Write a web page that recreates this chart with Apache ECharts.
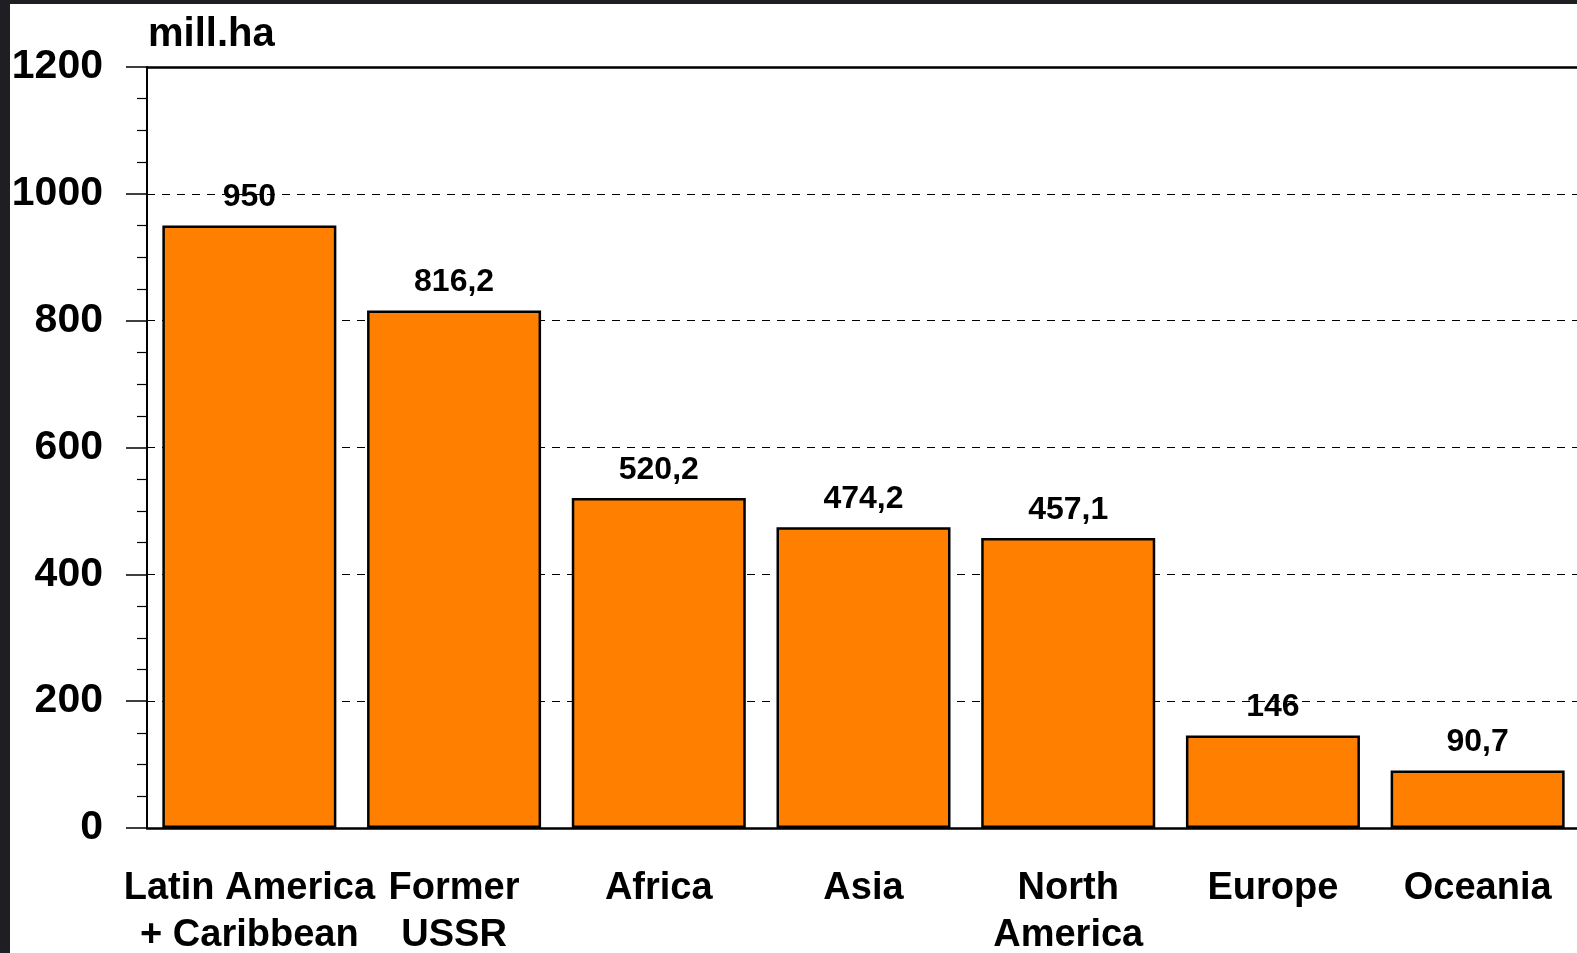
<!DOCTYPE html>
<html>
<head>
<meta charset="utf-8">
<script src="https://cdn.jsdelivr.net/npm/echarts@6/dist/echarts.min.js"></script>
<style>
  html, body { margin: 0; padding: 0; background: #1e1e23; width: 1577px; height: 953px; overflow: hidden; }
  #chart { position: absolute; left: 10px; top: 4px; width: 1567px; height: 949px; background: #ffffff; }
</style>
</head>
<body>
<div id="chart"></div>
<script>
const categories = ['Latin America\n+ Caribbean', 'Former\nUSSR', 'Africa', 'Asia', 'North\nAmerica', 'Europe', 'Oceania'];
const values = [950, 816.2, 520.2, 474.2, 457.1, 146, 90.7];
const unitLabel = 'mill.ha';
const yMin = 0, yMax = 1200, yInterval = 200;

const FONT = '"Liberation Sans", Arial, sans-serif';
const chart = echarts.init(document.getElementById('chart'), null, { renderer: 'canvas' });
chart.setOption({
  animation: false,
  backgroundColor: '#ffffff',
  title: {
    text: unitLabel, left: 138, top: 11, padding: 0,
    textStyle: { fontFamily: FONT, fontWeight: 'bold', fontSize: 40, color: '#000' }
  },
  grid: { left: 137, top: 63, right: -3, bottom: 125, containLabel: false, outerBoundsMode: 'none' },
  xAxis: [{
    type: 'category', data: categories, position: 'bottom',
    axisLine: { lineStyle: { color: '#000', width: 2.5 } },
    axisTick: { alignWithLabel: true, length: 26, lineStyle: { color: '#222', width: 1 } },
    axisLabel: { fontFamily: FONT, fontWeight: 'bold', fontSize: 38, lineHeight: 47, color: '#000', margin: 37, interval: 0 }
  }, {
    type: 'category', data: categories, position: 'top',
    axisLine: { show: true, lineStyle: { color: '#000', width: 2.5 } },
    axisTick: { show: false }, axisLabel: { show: false }
  }],
  yAxis: {
    type: 'value', min: yMin, max: yMax, interval: yInterval,
    axisLine: { show: true, lineStyle: { color: '#000', width: 2 } },
    axisTick: { show: true, length: 21, lineStyle: { color: '#000', width: 1.5 } },
    minorTick: { show: true, splitNumber: 4, length: 10, lineStyle: { color: '#000', width: 1.2 } },
    axisLabel: { fontFamily: FONT, fontWeight: 'bold', fontSize: 41, color: '#000', margin: 44, formatter: v => String(v) },
    splitLine: { show: true, lineStyle: { color: '#000', width: 1, type: [8, 7] } }
  },
  series: [{
    type: 'bar', data: values, barWidth: '85%',
    itemStyle: { color: '#FF8000', borderColor: '#000', borderWidth: 2.5 },
    label: {
      show: true, position: 'top', distance: 12,
      fontFamily: FONT, fontWeight: 'bold', fontSize: 32, color: '#000',
      formatter: p => String(p.value).replace('.', ',')
    }
  }]
});
</script>
</body>
</html>
